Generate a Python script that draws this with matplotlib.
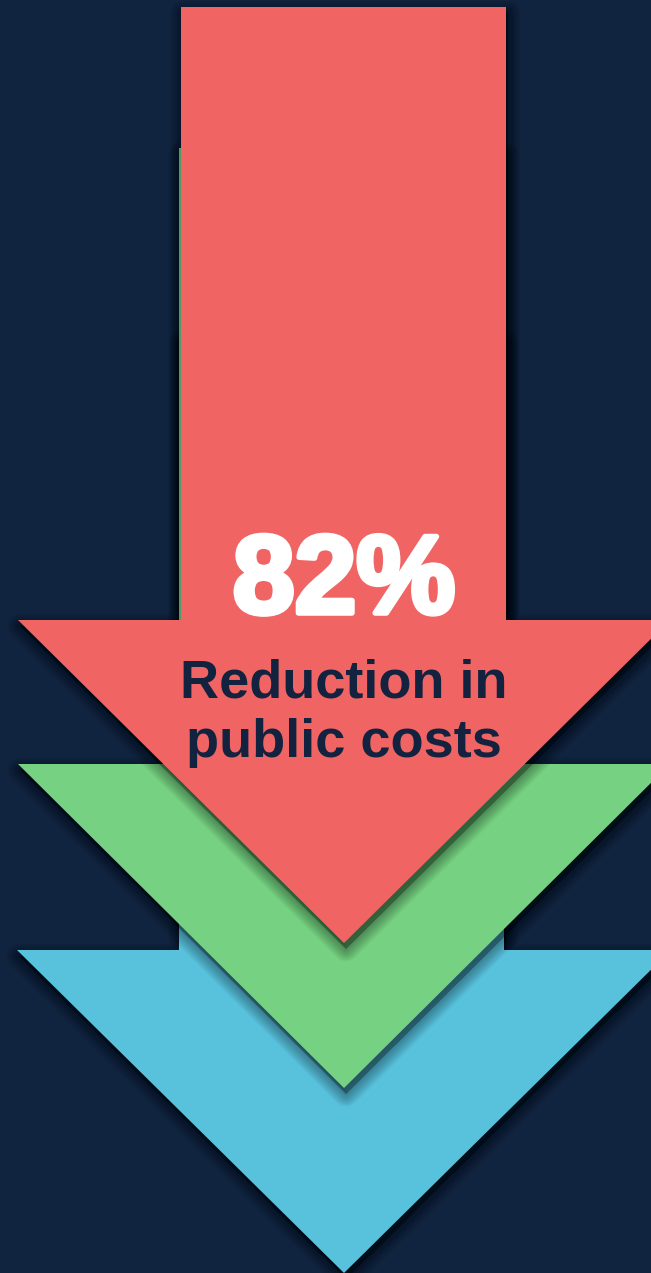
import matplotlib.pyplot as plt
from matplotlib.patches import Polygon
import matplotlib.patheffects as pe

# arrow layers, drawn back to front (pixel units, y grows downward)
arrow_names = ["blue", "green", "red"]
arrow_colors = ["#58C1DC", "#76D282", "#F06563"]
shaft_tops = [337, 148, 7]
shaft_lefts = [179, 179, 181]
shaft_rights = [504, 504, 506]
head_bases = [950, 764, 620]
head_lefts = [17, 18, 18]
head_rights = [671, 670, 670]
tips_x = [344, 344, 344]
tips_y = [1273, 1088, 943]

big_label = "82%"
sub_label = ["Reduction in", "public costs"]

W, H = 651, 1273
bg = "#10243F"
navy = "#13223F"

fig = plt.figure(figsize=(W / 100, H / 100), dpi=100)
fig.patch.set_facecolor(bg)
ax = fig.add_axes([0, 0, 1, 1])
ax.set_xlim(0, W)
ax.set_ylim(H, 0)
ax.axis("off")
ax.set_facecolor(bg)


def arrow_points(i, dx=0, dy=0):
    pts = [
        (shaft_lefts[i], shaft_tops[i]),
        (shaft_rights[i], shaft_tops[i]),
        (shaft_rights[i], head_bases[i]),
        (head_rights[i], head_bases[i]),
        (tips_x[i], tips_y[i]),
        (head_lefts[i], head_bases[i]),
        (shaft_lefts[i], head_bases[i]),
    ]
    return [(x + dx, y + dy) for x, y in pts]


for i in range(len(arrow_names)):
    # soft drop shadow: stacked strokes of growing width
    for lw in range(18, 0, -2):
        ax.add_patch(Polygon(arrow_points(i, 2, 6), closed=True,
                             facecolor="black", edgecolor="black",
                             linewidth=lw, alpha=0.04, joinstyle="round"))
    ax.add_patch(Polygon(arrow_points(i, 1, 3), closed=True,
                         facecolor="black", edgecolor="none", alpha=0.1))
    ax.add_patch(Polygon(arrow_points(i), closed=True,
                         facecolor=arrow_colors[i], edgecolor="none"))

ax.text(344, 613, big_label, ha="center", va="baseline", color="white",
        fontsize=80, fontweight="bold", family="Liberation Sans",
        path_effects=[pe.withStroke(linewidth=4, foreground="white")])
ax.text(344, 697, sub_label[0], ha="center", va="baseline", color=navy,
        fontsize=39, fontweight="bold", family="Liberation Sans")
ax.text(344, 757, sub_label[1], ha="center", va="baseline", color=navy,
        fontsize=39, fontweight="bold", family="Liberation Sans")

fig.savefig("out.png", dpi=100, facecolor=bg)
